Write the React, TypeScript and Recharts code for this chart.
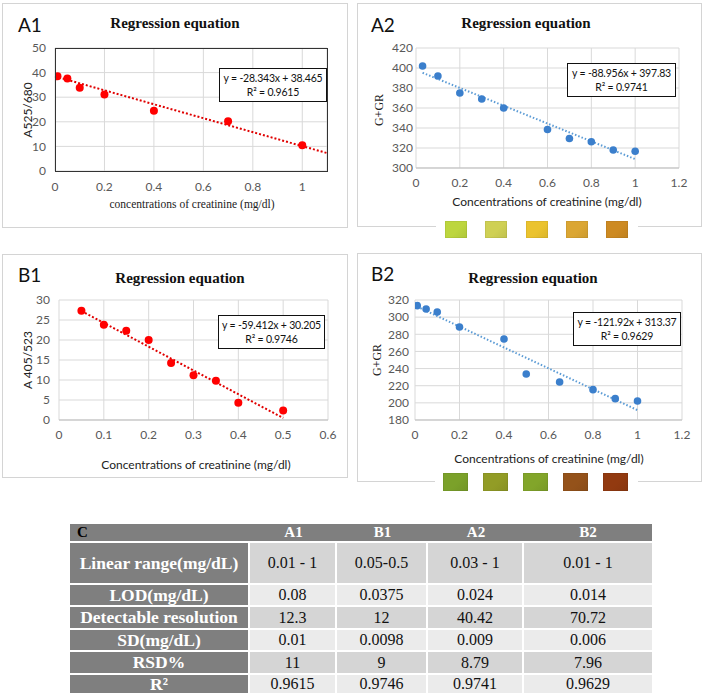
import React from 'react';
import { ScatterChart, Scatter, XAxis, YAxis, CartesianGrid, ReferenceLine } from 'recharts';

// ---------- data ----------
const a1X = [0.01, 0.05, 0.1, 0.2, 0.4, 0.7, 1.0];
const a1Y = [38.5, 37.6, 33.8, 31.1, 24.5, 20.2, 10.5];
const a1TrendX = [0, 1.1];
const a1TrendY = [38.47, 7.29];
const a1XTicks = [0, 0.2, 0.4, 0.6, 0.8, 1];
const a1YTicks = [0, 10, 20, 30, 40, 50];

const a2X = [0.03, 0.1, 0.2, 0.3, 0.4, 0.6, 0.7, 0.8, 0.9, 1.0];
const a2Y = [402, 392, 375, 369, 360, 338.5, 329.5, 326.3, 318, 316.8];
const a2TrendX = [0.03, 1.0];
const a2TrendY = [395.2, 308.9];
const a2XTicks = [0, 0.2, 0.4, 0.6, 0.8, 1, 1.2];
const a2YTicks = [300, 320, 340, 360, 380, 400, 420];

const b1X = [0.05, 0.1, 0.15, 0.2, 0.25, 0.3, 0.35, 0.4, 0.5];
const b1Y = [27.3, 23.8, 22.3, 20.0, 14.25, 11.2, 9.8, 4.3, 2.4];
const b1TrendX = [0.05, 0.5];
const b1TrendY = [27.24, 0.5];
const b1XTicks = [0, 0.1, 0.2, 0.3, 0.4, 0.5, 0.6];
const b1YTicks = [0, 5, 10, 15, 20, 25, 30];

const b2X = [0.01, 0.05, 0.1, 0.2, 0.4, 0.5, 0.65, 0.8, 0.9, 1.0];
const b2Y = [313.4, 309.5, 306, 288.5, 274.5, 233.7, 224.3, 215.4, 204.9, 202.2];
const b2TrendX = [0.01, 1.0];
const b2TrendY = [312.2, 191.5];
const b2XTicks = [0, 0.2, 0.4, 0.6, 0.8, 1, 1.2];
const b2YTicks = [180, 200, 220, 240, 260, 280, 300, 320];

const a2Swatches = ['#bdd63e', '#cfd054', '#ebc32e', '#dba633', '#cd8a22'];
const b2Swatches = ['#7ba12a', '#929c26', '#82a52a', '#94521a', '#923a10'];

const tableHeader = ['C', 'A1', 'B1', 'A2', 'B2'];
const rowLabels = ['Linear range(mg/dL)', 'LOD(mg/dL)', 'Detectable resolution', 'SD(mg/dL)', 'RSD%', 'R²'];
const colA1 = ['0.01 - 1', '0.08', '12.3', '0.01', '11', '0.9615'];
const colB1 = ['0.05-0.5', '0.0375', '12', '0.0098', '9', '0.9746'];
const colA2 = ['0.03 - 1', '0.024', '40.42', '0.009', '8.79', '0.9741'];
const colB2 = ['0.01 - 1', '0.014', '70.72', '0.006', '7.96', '0.9629'];

// ---------- styling ----------
const SANS = 'Lato, "Noto Sans", sans-serif';
const SERIF = '"Liberation Serif", "Times New Roman", serif';
const RED = '#ff0000';
const BLUE = '#3b7fcc';

type Geo = { x: number; y: number; w: number; h: number };

function Panel(props: any) {
  const { box, plot, xs, ys, trendX, trendY, xDomain, xTicks, yDomain, yTicks, color, trendColor, trendWidth, dash, framed, xTickMargin, yTickMargin, r } = props;
  const data = xs.map((x: number, i: number) => ({ x, y: ys[i] }));
  const seg = trendX.map((x: number, i: number) => ({ x, y: trendY[i] }));
  const dot = (p: any) => <circle cx={p.cx} cy={p.cy} r={r} fill={color} />;
  return (
    <>
      <div style={{ position: 'absolute', left: box.x, top: box.y, width: box.w, height: box.h }}>
        <ScatterChart
          width={box.w}
          height={box.h}
          margin={{ top: plot.y1 - box.y, right: box.x + box.w - plot.x2, bottom: 0, left: 0 }}
        >
          <CartesianGrid stroke="#d9d9d9" strokeWidth={1} />
          <XAxis
            type="number"
            dataKey="x"
            domain={xDomain}
            ticks={xTicks}
            allowDataOverflow
            height={box.y + box.h - plot.y2}
            tickLine={false}
            tickSize={0}
            tickMargin={xTickMargin}
            axisLine={framed ? false : { stroke: '#bfbfbf' }}
            tick={{ fill: '#595959', fontSize: 12, fontFamily: SANS }}
            interval={0}
          />
          <YAxis
            type="number"
            dataKey="y"
            domain={yDomain}
            ticks={yTicks}
            allowDataOverflow
            width={plot.x1 - box.x}
            tickLine={false}
            tickSize={0}
            tickMargin={yTickMargin}
            axisLine={false}
            tick={{ fill: '#595959', fontSize: 12, fontFamily: SANS }}
            interval={0}
          />
          <ReferenceLine segment={seg} stroke={trendColor} strokeWidth={trendWidth} strokeDasharray={dash} ifOverflow="visible" />
          <Scatter data={data} fill={color} shape={dot} isAnimationActive={false} />
        </ScatterChart>
      </div>
      {framed ? (
        <div
          style={{
            position: 'absolute',
            left: plot.x1,
            top: plot.y1 - 0.5,
            width: plot.x2 - plot.x1 + 1,
            height: plot.y2 - plot.y1 + 1,
            border: '1px solid #333',
            boxSizing: 'border-box',
            pointerEvents: 'none',
          }}
        />
      ) : null}
    </>
  );
}

function Frame({ g }: { g: Geo }) {
  return (
    <div
      style={{
        position: 'absolute',
        left: g.x,
        top: g.y,
        width: g.w,
        height: g.h,
        border: '1px solid #d4d4d4',
        boxSizing: 'border-box',
        background: '#fff',
      }}
    />
  );
}

function Txt({ x, y, children, style }: any) {
  return (
    <div style={{ position: 'absolute', left: x, top: y, transform: 'translate(-50%, -50%)', whiteSpace: 'nowrap', lineHeight: 1, ...style }}>
      {children}
    </div>
  );
}

function VTxt({ x, y, children, style }: any) {
  return (
    <div style={{ position: 'absolute', left: x, top: y, transform: 'translate(-50%, -50%) rotate(-90deg)', whiteSpace: 'nowrap', lineHeight: 1, ...style }}>
      {children}
    </div>
  );
}

function EqBox({ x1, y1, x2, y2, l1, l2 }: any) {
  return (
    <div
      style={{
        position: 'absolute',
        left: x1,
        top: y1,
        width: x2 - x1,
        height: y2 - y1,
        border: '1.5px solid #111',
        boxSizing: 'border-box',
        background: '#fff',
        fontFamily: SANS,
        fontSize: 10.5,
        letterSpacing: -0.2,
        color: '#111',
        display: 'flex',
        flexDirection: 'column',
        alignItems: 'center',
        justifyContent: 'center',
        lineHeight: '14px',
        whiteSpace: 'nowrap',
      }}
    >
      <div>{l1}</div>
      <div>{l2}</div>
    </div>
  );
}

function Swatches({ colors, x0, y, w, h, step, gapX1, gapX2 }: any) {
  return (
    <>
      <div style={{ position: 'absolute', left: gapX1, top: y, width: gapX2 - gapX1, height: h, background: '#fff' }} />
      {colors.map((c: string, i: number) => (
        <div
          key={i}
          style={{
            position: 'absolute',
            left: x0 + i * step,
            top: y,
            width: w,
            height: h,
            background: `linear-gradient(135deg, ${c} 0%, ${c} 55%, rgba(0,0,0,0.12) 130%), ${c}`,
            boxShadow: 'inset 0 0 0 1px rgba(0,0,0,0.06)',
          }}
        />
      ))}
    </>
  );
}

const titleStyle = { fontFamily: SERIF, fontWeight: 700, fontSize: 15, color: '#111' };
const tagStyle = { fontFamily: SANS, fontSize: 19, color: '#111' };
const axSans = { fontFamily: SANS, fontSize: 12, color: '#222' };
const axSerif = { fontFamily: SERIF, fontSize: 12, color: '#222' };

function Table() {
  const widths = [180, 87, 91, 96, 128];
  const heights = [19, 42, 22, 23, 22, 23, 18];
  const cols = [colA1, colB1, colA2, colB2];
  const darkRow = [true, false, true, false, true, false];
  const cells: any[] = [];
  tableHeader.forEach((h, j) => {
    cells.push(
      <div
        key={'h' + j}
        style={{
          background: '#7f7f7f',
          borderBottom: '2px solid #fff',
          boxSizing: 'border-box',
          display: 'flex',
          alignItems: 'center',
          justifyContent: j === 0 ? 'flex-start' : 'center',
          paddingLeft: j === 0 ? 7 : 0,
          fontFamily: SERIF,
          fontWeight: 700,
          fontSize: 15,
          color: j === 0 ? '#000' : '#fff',
        }}
      >
        {h}
      </div>
    );
  });
  rowLabels.forEach((lab, i) => {
    const last = i === rowLabels.length - 1;
    cells.push(
      <div
        key={'l' + i}
        style={{
          background: '#7f7f7f',
          borderRight: '2px solid #fff',
          borderBottom: last ? 'none' : '2px solid #fff',
          boxSizing: 'border-box',
          display: 'flex',
          alignItems: 'center',
          justifyContent: 'center',
          fontFamily: SERIF,
          fontWeight: 700,
          fontSize: 17.5,
          color: '#fff',
          whiteSpace: 'nowrap',
        }}
      >
        {lab}
      </div>
    );
    cols.forEach((col, j) => {
      cells.push(
        <div
          key={'c' + i + '-' + j}
          style={{
            background: darkRow[i] ? '#d5d5d5' : '#ebebeb',
            borderRight: j === cols.length - 1 ? 'none' : '2px solid #fff',
            borderBottom: last ? 'none' : '2px solid #fff',
            boxSizing: 'border-box',
            display: 'flex',
            alignItems: 'center',
            justifyContent: 'center',
            fontFamily: SERIF,
            fontSize: 16,
            color: '#111',
          }}
        >
          {col[i]}
        </div>
      );
    });
  });
  return (
    <div
      style={{
        position: 'absolute',
        left: 70,
        top: 524,
        width: 582,
        height: 169,
        display: 'grid',
        gridTemplateColumns: widths.map((w) => w + 'px').join(' '),
        gridTemplateRows: heights.map((h) => h + 'px').join(' '),
      }}
    >
      {cells}
    </div>
  );
}

export default function App() {
  const A1box: Geo = { x: 2, y: 3, w: 346, h: 225 };
  const A2box: Geo = { x: 357, y: 3, w: 345, h: 224 };
  const B1box: Geo = { x: 2, y: 254, w: 346, h: 224 };
  const B2box: Geo = { x: 357, y: 253, w: 345, h: 229 };
  return (
    <div style={{ position: 'absolute', left: 0, top: 0, width: 708, height: 696, background: '#fff', overflow: 'hidden' }}>
      <Frame g={A1box} />
      <Frame g={A2box} />
      <Frame g={B1box} />
      <Frame g={B2box} />

      {/* A1 */}
      <Panel
        box={A1box}
        plot={{ x1: 55, y1: 48, x2: 327, y2: 171 }}
        xs={a1X} ys={a1Y} trendX={a1TrendX} trendY={a1TrendY}
        xDomain={[0, 1.1]} xTicks={a1XTicks} yDomain={[0, 50]} yTicks={a1YTicks}
        color={RED} trendColor="#e00000" trendWidth={2} dash="2 2" framed
        xTickMargin={11} yTickMargin={9} r={4}
      />
      <Txt x={175} y={23} style={titleStyle}>Regression equation</Txt>
      <div style={{ position: 'absolute', left: 18, top: 14, ...tagStyle, lineHeight: '22px' }}>A1</div>
      <VTxt x={28} y={110} style={axSans}>A525/680</VTxt>
      <Txt x={192} y={205} style={{ ...axSerif, fontSize: 11.5 }}>concentrations of creatinine (mg/dl)</Txt>
      <EqBox x1={219} y1={68} x2={327} y2={102} l1="y = -28.343x + 38.465" l2="R² = 0.9615" />

      {/* A2 */}
      <Panel
        box={A2box}
        plot={{ x1: 416, y1: 48, x2: 679, y2: 168 }}
        xs={a2X} ys={a2Y} trendX={a2TrendX} trendY={a2TrendY}
        xDomain={[0, 1.2]} xTicks={a2XTicks} yDomain={[300, 420]} yTicks={a2YTicks}
        color={BLUE} trendColor="#5b9bd5" trendWidth={2} dash="1.5 2"
        xTickMargin={10} yTickMargin={3} r={3.8}
      />
      <Txt x={526} y={23} style={titleStyle}>Regression equation</Txt>
      <div style={{ position: 'absolute', left: 371, top: 14, ...tagStyle, lineHeight: '22px' }}>A2</div>
      <VTxt x={379} y={110} style={axSerif}>G+GR</VTxt>
      <Txt x={547} y={202} style={axSans}>Concentrations of creatinine (mg/dl)</Txt>
      <EqBox x1={567} y1={63} x2={676} y2={97} l1="y = -88.956x + 397.83" l2="R² = 0.9741" />
      <Swatches colors={a2Swatches} x0={445} y={221} w={22} h={17} step={40.3} gapX1={436} gapX2={638} />

      {/* B1 */}
      <Panel
        box={B1box}
        plot={{ x1: 59, y1: 300, x2: 328, y2: 420 }}
        xs={b1X} ys={b1Y} trendX={b1TrendX} trendY={b1TrendY}
        xDomain={[0, 0.6]} xTicks={b1XTicks} yDomain={[0, 30]} yTicks={b1YTicks}
        color={RED} trendColor="#e00000" trendWidth={2} dash="2 2"
        xTickMargin={10} yTickMargin={9} r={4}
      />
      <Txt x={180} y={278} style={titleStyle}>Regression equation</Txt>
      <div style={{ position: 'absolute', left: 18, top: 264, ...tagStyle, lineHeight: '22px' }}>B1</div>
      <VTxt x={28} y={360} style={axSans}>A 405/523</VTxt>
      <Txt x={196} y={465} style={axSans}>Concentrations of creatinine (mg/dl)</Txt>
      <EqBox x1={218} y1={315} x2={325} y2={349} l1="y = -59.412x + 30.205" l2="R² = 0.9746" />

      {/* B2 */}
      <Panel
        box={B2box}
        plot={{ x1: 415, y1: 300, x2: 682, y2: 420 }}
        xs={b2X} ys={b2Y} trendX={b2TrendX} trendY={b2TrendY}
        xDomain={[0, 1.2]} xTicks={b2XTicks} yDomain={[180, 320]} yTicks={b2YTicks}
        color={BLUE} trendColor="#5b9bd5" trendWidth={2} dash="1.5 2"
        xTickMargin={10} yTickMargin={6} r={3.8}
      />
      <Txt x={533} y={278} style={titleStyle}>Regression equation</Txt>
      <div style={{ position: 'absolute', left: 371, top: 263, ...tagStyle, lineHeight: '22px' }}>B2</div>
      <VTxt x={377} y={360} style={axSerif}>G+GR</VTxt>
      <Txt x={549} y={459} style={axSans}>Concentrations of creatinine (mg/dl)</Txt>
      <EqBox x1={573} y1={312} x2={681} y2={346} l1="y = -121.92x + 313.37" l2="R² = 0.9629" />
      <Swatches colors={b2Swatches} x0={443} y={473} w={25} h={18} step={40} gapX1={435} gapX2={638} />

      <Table />
    </div>
  );
}
